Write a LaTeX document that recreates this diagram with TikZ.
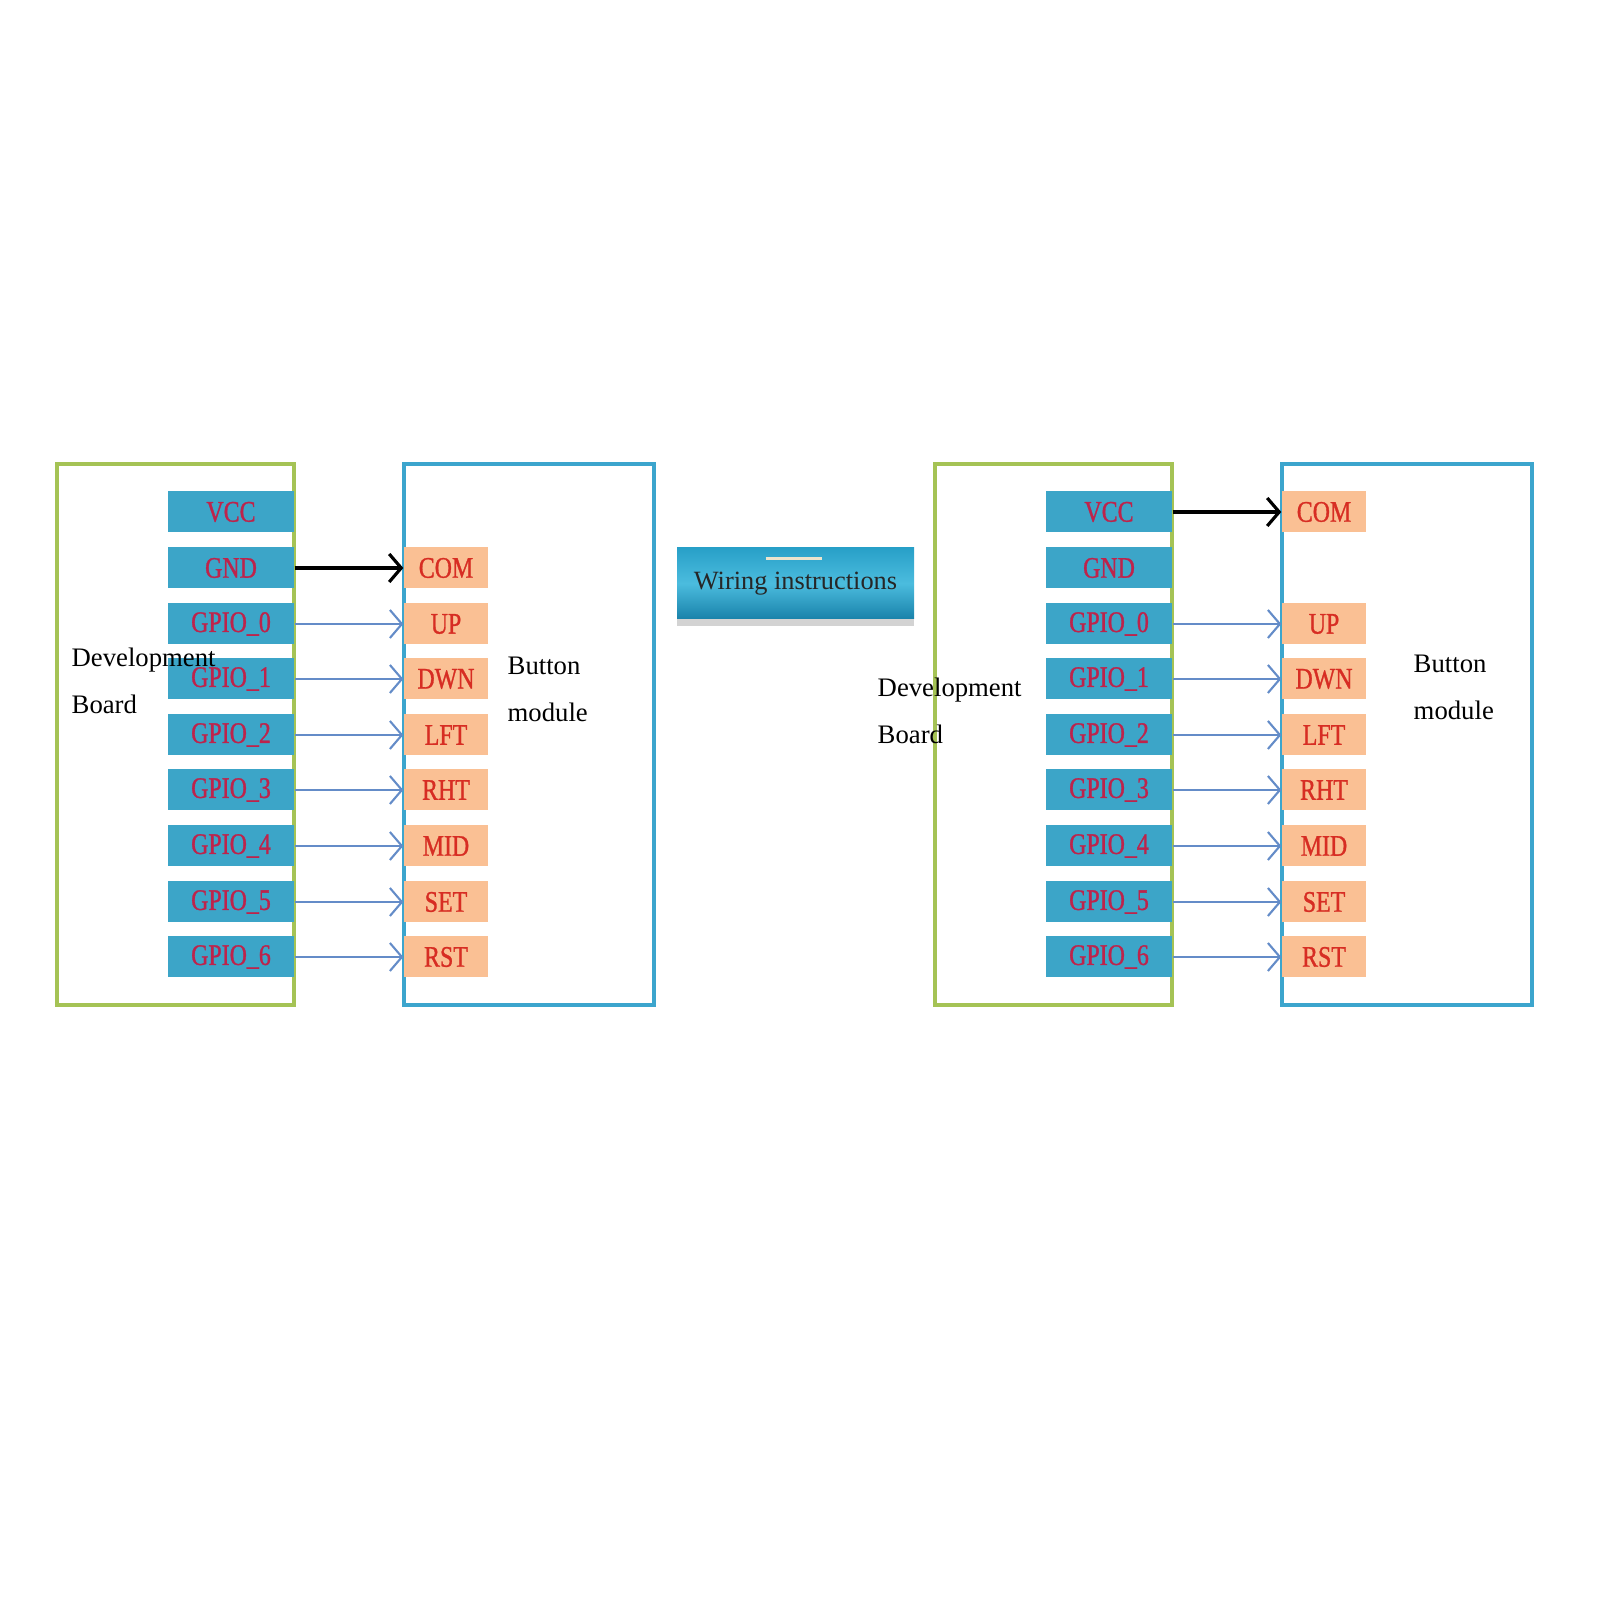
\documentclass[tikz,border=0pt]{standalone}
\usepackage{fontspec}
\setmainfont{Liberation Serif}
\newfontfamily\pinfont[FakeStretch=0.8,FakeBold=1]{Liberation Serif}
\usepackage{tikz}
\usetikzlibrary{arrows.meta,shadows}
\definecolor{boardgreen}{RGB}{165,195,85}
\definecolor{modblue}{RGB}{60,165,205}
\definecolor{pinblue}{RGB}{60,165,200}
\definecolor{btnorange}{RGB}{250,192,148}
\definecolor{pinred}{RGB}{190,35,75}
\definecolor{btnred}{RGB}{215,45,35}
\definecolor{wireblue}{RGB}{100,140,200}
\definecolor{wirtop}{RGB}{40,160,200}
\definecolor{wirmid}{RGB}{75,188,222}
\definecolor{wirbot}{RGB}{25,130,170}
\definecolor{glint}{RGB}{235,228,205}
\tikzset{
  pin/.style={fill=pinblue,minimum width=1.26cm,minimum height=0.41cm,inner sep=0pt,
    text=pinred,font=\pinfont\fontsize{8.5}{10}\selectfont},
  btn/.style={fill=btnorange,minimum width=0.84cm,minimum height=0.41cm,inner sep=0pt,
    text=btnred,font=\pinfont\fontsize{8.5}{10}\selectfont},
  wire/.style={draw=wireblue,line width=0.6pt,-{Straight Barb[length=1.2mm,width=2.8mm]}},
  gndwire/.style={draw=black,line width=0.9pt,-{Straight Barb[length=1.2mm,width=2.8mm]}},
  lbl/.style={anchor=west,inner sep=0pt,align=left,font=\fontsize{7.6}{13.4}\selectfont}
}

\begin{document}
\begin{tikzpicture}
\useasboundingbox (0,0) rectangle (16,16);
% left panel
\draw[boardgreen,line width=0.9pt] (0.57,5.95) rectangle (2.94,11.36);
\draw[modblue,line width=0.9pt] (4.04,5.95) rectangle (6.54,11.36);
\node[pin] (lvcc) at (2.31,10.88) {VCC};
\node[pin] (lgnd) at (2.31,10.32) {GND};
\node[pin] (lg0) at (2.31,9.76) {GPIO\_0};
\node[pin] (lg1) at (2.31,9.21) {GPIO\_1};
\node[pin] (lg2) at (2.31,8.65) {GPIO\_2};
\node[pin] (lg3) at (2.31,8.10) {GPIO\_3};
\node[pin] (lg4) at (2.31,7.54) {GPIO\_4};
\node[pin] (lg5) at (2.31,6.98) {GPIO\_5};
\node[pin] (lg6) at (2.31,6.43) {GPIO\_6};
\node[btn] (lcom) at (4.46,10.32) {COM};
\node[btn] (lup) at (4.46,9.76) {UP};
\node[btn] (ldwn) at (4.46,9.21) {DWN};
\node[btn] (llft) at (4.46,8.65) {LFT};
\node[btn] (lrht) at (4.46,8.10) {RHT};
\node[btn] (lmid) at (4.46,7.54) {MID};
\node[btn] (lset) at (4.46,6.98) {SET};
\node[btn] (lrst) at (4.46,6.43) {RST};
\draw[gndwire] (lgnd) -- (lcom);
\draw[wire] (lg0) -- (lup);
\draw[wire] (lg1) -- (ldwn);
\draw[wire] (lg2) -- (llft);
\draw[wire] (lg3) -- (lrht);
\draw[wire] (lg4) -- (lmid);
\draw[wire] (lg5) -- (lset);
\draw[wire] (lg6) -- (lrst);
\node[lbl] (ldev) at (0.71,9.19) {Development\\Board};
\node[lbl] (lmod) at (5.07,9.11) {Button\\module};
% title
\node[top color=wirtop,bottom color=wirbot,middle color=wirmid,
  drop shadow={shadow xshift=0pt,shadow yshift=-2pt,opacity=0.35},
  minimum width=2.37cm,minimum height=0.71cm,text=black!85,
  font=\fontsize{7.5}{9}\selectfont] (wiring) at (7.955,10.165) {Wiring instructions};
\draw[glint,line width=0.8pt] ([xshift=-0.3cm,yshift=-0.11cm]wiring.north) -- ++(0.56,0);
% right panel
\draw[boardgreen,line width=0.9pt] (9.35,5.95) rectangle (11.72,11.36);
\draw[modblue,line width=0.9pt] (12.82,5.95) rectangle (15.32,11.36);
\node[pin] (rvcc) at (11.09,10.88) {VCC};
\node[pin] (rgnd) at (11.09,10.32) {GND};
\node[pin] (rg0) at (11.09,9.76) {GPIO\_0};
\node[pin] (rg1) at (11.09,9.21) {GPIO\_1};
\node[pin] (rg2) at (11.09,8.65) {GPIO\_2};
\node[pin] (rg3) at (11.09,8.10) {GPIO\_3};
\node[pin] (rg4) at (11.09,7.54) {GPIO\_4};
\node[pin] (rg5) at (11.09,6.98) {GPIO\_5};
\node[pin] (rg6) at (11.09,6.43) {GPIO\_6};
\node[btn] (rcom) at (13.24,10.88) {COM};
\node[btn] (rup) at (13.24,9.76) {UP};
\node[btn] (rdwn) at (13.24,9.21) {DWN};
\node[btn] (rlft) at (13.24,8.65) {LFT};
\node[btn] (rrht) at (13.24,8.10) {RHT};
\node[btn] (rmid) at (13.24,7.54) {MID};
\node[btn] (rset) at (13.24,6.98) {SET};
\node[btn] (rrst) at (13.24,6.43) {RST};
\draw[gndwire] (rvcc) -- (rcom);
\draw[wire] (rg0) -- (rup);
\draw[wire] (rg1) -- (rdwn);
\draw[wire] (rg2) -- (rlft);
\draw[wire] (rg3) -- (rrht);
\draw[wire] (rg4) -- (rmid);
\draw[wire] (rg5) -- (rset);
\draw[wire] (rg6) -- (rrst);
\node[lbl] (rdev) at (8.77,8.89) {Development\\Board};
\node[lbl] (rmod) at (14.13,9.13) {Button\\module};
\end{tikzpicture}
\end{document}
